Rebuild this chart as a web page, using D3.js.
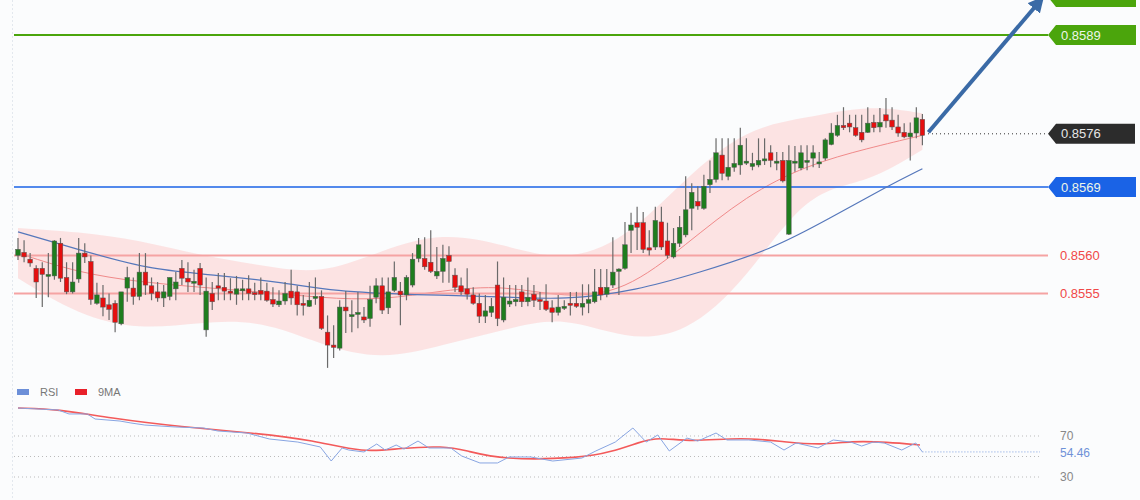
<!DOCTYPE html>
<html lang="en">
<head>
<meta charset="UTF-8">
<title>Candles</title>
<style>
    body { margin: 0; background: #fbfcfd; overflow: hidden; }
    svg { display: block; font-family: "Liberation Sans", Arial, sans-serif; }
</style>
</head>
<body>
<svg id="chart" width="1140" height="500"></svg>
<script src="https://cdn.jsdelivr.net/npm/d3@7/dist/d3.min.js"></script>
<script>
// candles
const open = [0.85600,0.85604,0.85595,0.85583,0.85583,0.85573,0.85573,0.85616,0.85571,0.85552,
0.85569,0.85603,0.85592,0.85537,0.85544,0.85535,0.85537,0.85510,0.85557,0.85557,
0.85546,0.85578,0.85560,0.85552,0.85544,0.85546,0.85556,0.85583,0.85570,0.85564,
0.85583,0.85502,0.85550,0.85560,0.85558,0.85553,0.85549,0.85554,0.85556,0.85551,
0.85554,0.85553,0.85542,0.85535,0.85540,0.85553,0.85552,0.85537,0.85533,0.85544,
0.85546,0.85499,0.85482,0.85478,0.85532,0.85521,0.85523,0.85519,0.85517,0.85545,
0.85560,0.85531,0.85554,0.85553,0.85548,0.85561,0.85596,0.85596,0.85591,0.85573,
0.85579,0.85600,0.85574,0.85560,0.85556,0.85548,0.85537,0.85520,0.85525,0.85561,
0.85515,0.85536,0.85539,0.85552,0.85539,0.85549,0.85542,0.85540,0.85531,0.85525,
0.85531,0.85537,0.85537,0.85532,0.85537,0.85539,0.85558,0.85549,0.85561,0.85579,
0.85583,0.85633,0.85643,0.85643,0.85610,0.85611,0.85644,0.85619,0.85598,0.85616,
0.85627,0.85662,0.85671,0.85662,0.85693,0.85700,0.85732,0.85704,0.85716,0.85719,
0.85722,0.85717,0.85719,0.85726,0.85735,0.85723,0.85725,0.85628,0.85723,0.85715,
0.85724,0.85728,0.85722,0.85728,0.85746,0.85758,0.85771,0.85774,0.85768,0.85762,
0.85762,0.85775,0.85769,0.85785,0.85778,0.85769,0.85762,0.85756,0.85761,0.85779];
const close = [0.85608,0.85598,0.85590,0.85565,0.85575,0.85575,0.85619,0.85570,0.85552,0.85565,
0.85603,0.85598,0.85542,0.85548,0.85532,0.85529,0.85512,0.85552,0.85571,0.85546,
0.85578,0.85561,0.85550,0.85544,0.85552,0.85571,0.85565,0.85570,0.85565,0.85566,
0.85561,0.85553,0.85539,0.85557,0.85553,0.85552,0.85556,0.85556,0.85550,0.85550,
0.85549,0.85541,0.85536,0.85540,0.85550,0.85544,0.85535,0.85535,0.85541,0.85546,
0.85504,0.85482,0.85479,0.85532,0.85527,0.85522,0.85525,0.85515,0.85542,0.85560,
0.85528,0.85552,0.85571,0.85548,0.85571,0.85595,0.85614,0.85585,0.85579,0.85579,
0.85596,0.85592,0.85558,0.85552,0.85549,0.85537,0.85520,0.85527,0.85533,0.85517,
0.85545,0.85540,0.85542,0.85539,0.85545,0.85541,0.85541,0.85529,0.85525,0.85532,
0.85533,0.85535,0.85533,0.85537,0.85542,0.85552,0.85548,0.85558,0.85578,0.85582,
0.85614,0.85640,0.85637,0.85608,0.85607,0.85646,0.85611,0.85600,0.85616,0.85637,
0.85660,0.85683,0.85665,0.85691,0.85700,0.85735,0.85708,0.85716,0.85721,0.85745,
0.85724,0.85721,0.85725,0.85727,0.85725,0.85724,0.85698,0.85725,0.85724,0.85735,
0.85725,0.85735,0.85723,0.85752,0.85761,0.85771,0.85768,0.85769,0.85758,0.85752,
0.85774,0.85768,0.85775,0.85777,0.85769,0.85761,0.85756,0.85761,0.85781,0.85758];
const high = [0.85623,0.85620,0.85603,0.85587,0.85591,0.85603,0.85620,0.85623,0.85591,0.85591,
0.85623,0.85616,0.85600,0.85564,0.85561,0.85550,0.85541,0.85552,0.85585,0.85571,
0.85603,0.85603,0.85571,0.85565,0.85561,0.85571,0.85578,0.85594,0.85591,0.85581,
0.85590,0.85571,0.85565,0.85577,0.85577,0.85570,0.85573,0.85568,0.85574,0.85564,
0.85571,0.85564,0.85558,0.85554,0.85565,0.85581,0.85560,0.85548,0.85565,0.85571,
0.85554,0.85521,0.85508,0.85541,0.85553,0.85541,0.85552,0.85532,0.85560,0.85570,
0.85571,0.85571,0.85592,0.85565,0.85574,0.85603,0.85623,0.85624,0.85633,0.85611,
0.85614,0.85612,0.85583,0.85571,0.85583,0.85558,0.85550,0.85548,0.85544,0.85592,
0.85571,0.85561,0.85561,0.85561,0.85571,0.85561,0.85552,0.85562,0.85541,0.85548,
0.85541,0.85552,0.85552,0.85562,0.85562,0.85582,0.85582,0.85582,0.85624,0.85583,
0.85644,0.85656,0.85664,0.85657,0.85633,0.85664,0.85664,0.85643,0.85636,0.85652,
0.85704,0.85695,0.85691,0.85706,0.85725,0.85754,0.85754,0.85754,0.85754,0.85768,
0.85754,0.85735,0.85754,0.85754,0.85745,0.85736,0.85736,0.85745,0.85744,0.85745,
0.85745,0.85745,0.85736,0.85754,0.85774,0.85785,0.85795,0.85785,0.85785,0.85785,
0.85795,0.85785,0.85794,0.85807,0.85795,0.85785,0.85774,0.85775,0.85795,0.85786];
const low = [0.85594,0.85591,0.85585,0.85544,0.85532,0.85545,0.85568,0.85565,0.85549,0.85550,
0.85564,0.85590,0.85535,0.85535,0.85520,0.85515,0.85499,0.85508,0.85539,0.85535,
0.85541,0.85548,0.85541,0.85539,0.85532,0.85541,0.85541,0.85561,0.85552,0.85552,
0.85548,0.85493,0.85528,0.85541,0.85541,0.85541,0.85535,0.85541,0.85541,0.85541,
0.85541,0.85539,0.85532,0.85532,0.85535,0.85535,0.85521,0.85521,0.85532,0.85535,
0.85502,0.85452,0.85465,0.85475,0.85498,0.85499,0.85504,0.85511,0.85506,0.85537,
0.85523,0.85523,0.85552,0.85508,0.85541,0.85558,0.85591,0.85581,0.85577,0.85569,
0.85564,0.85564,0.85552,0.85548,0.85542,0.85535,0.85511,0.85511,0.85519,0.85507,
0.85512,0.85532,0.85533,0.85532,0.85533,0.85532,0.85528,0.85527,0.85512,0.85521,
0.85528,0.85521,0.85531,0.85521,0.85524,0.85537,0.85541,0.85545,0.85557,0.85548,
0.85581,0.85603,0.85607,0.85603,0.85600,0.85607,0.85607,0.85596,0.85596,0.85611,
0.85624,0.85633,0.85660,0.85660,0.85682,0.85696,0.85699,0.85699,0.85710,0.85706,
0.85719,0.85712,0.85716,0.85719,0.85716,0.85712,0.85696,0.85627,0.85710,0.85712,
0.85712,0.85716,0.85715,0.85725,0.85745,0.85756,0.85765,0.85762,0.85756,0.85749,
0.85761,0.85762,0.85762,0.85768,0.85765,0.85756,0.85754,0.85725,0.85754,0.85745];

// bollinger band (read at candle indices)
const bandIdx = [0,10,20,30,40,50,60,70,80,90,100,110,120,130,140,149];
const bandUp  = [0.85636,0.85631,0.85620,0.85600,0.85587,0.85574,0.85607,0.85631,0.85614,0.85591,0.85620,0.85702,0.85768,0.85781,0.85798,0.85787];
const bandLow = [0.85570,0.85521,0.85502,0.85512,0.85515,0.85482,0.85462,0.85482,0.85502,0.85521,0.85489,0.85495,0.85568,0.85686,0.85695,0.85739];
const bandMid = [0.85603,0.85577,0.85565,0.85558,0.85552,0.85544,0.85541,0.85554,0.85561,0.85544,0.85552,0.85614,0.85679,0.85719,0.85741,0.85758];

// slow moving average
const maIdx = [0,12,22,33,44,52,65,80,90,102,112,124,134,143,149];
const maVal = [0.85631,0.85603,0.85581,0.85574,0.85564,0.85553,0.85548,0.85546,0.85541,0.85554,0.85577,0.85607,0.85650,0.85690,0.85714];

// levels
const levels = [
    { v: 0.8594, color: "#4ba50c", kind: "tag", label: "" },
    { v: 0.8589, color: "#4ba50c", kind: "tag", label: "0.8589" },
    { v: 0.8569, color: "#1a63e6", kind: "tag", label: "0.8569" },
    { v: 0.8560, color: "#f5a3a3", kind: "text", label: "0.8560" },
    { v: 0.8555, color: "#f5a3a3", kind: "text", label: "0.8555" }
];
const lastPrice = 0.8576;

// RSI panel
const rsiIdx = [0,6.6,8.4,11.4,12.7,16.8,18.6,20.9,25.9,30.6,32.9,37.7,41.4,46.1,49.8,51.6,53.4,54.5,57,59.1,60.5,62.3,63.6,65.9,67.7,71.3,73.1,76.1,79,80.9,84.5,88.1,92.9,95.2,98.4,101.3,103.5,105.4,107.3,110.2,112,115,116.8,120.4,124,126.2,128.2,131.8,134.3,137.2,139,140.9,142.7,145.6,147.9,149];
const rsiVal = [97.3,95.4,91.5,91.5,86.6,84.6,82.7,80.7,78.8,77.8,74.9,72.9,67.1,64.1,59.3,45.6,58.3,56.3,54.4,62.2,56.3,61.2,57.3,65.1,58.3,58.3,50.5,43.7,43.7,49.5,49.5,45.6,48.5,55.4,64.1,77.8,64.1,71,55.4,68,65.1,72.9,66.1,66.1,64.1,56.3,63.2,58.3,66.1,64.1,60.2,64.1,63.2,56.3,63.2,54.46];
const ma9Idx = [0,6.6,15,27,39,48.6,57,62.9,70.2,73.6,79.7,92.9,97.7,102.5,105.4,110.9,119.3,126.4,132.5,137.2,143.2,148.6];
const ma9Val = [97.3,96.3,87.6,78.8,72.9,66.1,53.4,58.3,60.2,56.3,46.6,48.5,54.4,64.1,69,64.1,69,64.1,61.2,65.1,64.1,61.2];
const rsiTicks = [70, 30];
const rsiLast = 54.46;

const svg = d3.select('#chart');
const x = d3.scaleLinear().domain([0, 149]).range([18, 922.4]);
const y = d3.scaleLinear().domain([0.8569, 0.8589]).range([187, 35]);
const yr = d3.scaleLinear().domain([30, 70]).range([477, 436]);
const left = 14, right = 1048;

svg.append('line').attr('x1', 12.5).attr('x2', 12.5).attr('y1', 0).attr('y2', 500)
    .attr('stroke', '#e3e8ee').attr('stroke-dasharray', '2,2');

// band
const band = bandIdx.map((d, i) => ({ i: d, u: bandUp[i], l: bandLow[i], m: bandMid[i] }));
svg.append('path').datum(band)
    .attr('d', d3.area().curve(d3.curveBasis).x(d => x(d.i)).y0(d => y(d.l)).y1(d => y(d.u)))
    .attr('fill', '#fcdede').attr('opacity', 0.85);
svg.append('path').datum(band)
    .attr('d', d3.line().curve(d3.curveBasis).x(d => x(d.i)).y(d => y(d.m)))
    .attr('fill', 'none').attr('stroke', '#f08a8a').attr('stroke-width', 1);

// levels
levels.forEach(l => {
    const ly = y(l.v);
    svg.append('line').attr('x1', left).attr('x2', right).attr('y1', ly).attr('y2', ly)
        .attr('stroke', l.color).attr('stroke-width', l.kind === 'text' ? 2 : (l.color === '#1a63e6' ? 1.5 : 2));
    if (l.kind === 'tag') {
        svg.append('path').attr('d', `M${right},${ly} L${right + 8},${ly - 10} H1136 V${ly + 10} H${right + 8} Z`)
            .attr('fill', l.color);
        svg.append('text').attr('x', 1061).attr('y', ly + 4.5).attr('fill', '#eef6e8')
            .attr('font-size', 13).text(l.label);
    } else {
        svg.append('text').attr('x', 1060).attr('y', ly + 4.5).attr('fill', '#f04848')
            .attr('font-size', 13).text(l.label);
    }
});

// slow MA
svg.append('path').datum(maIdx.map((d, i) => [d, maVal[i]]))
    .attr('d', d3.line().curve(d3.curveBasis).x(d => x(d[0])).y(d => y(d[1])))
    .attr('fill', 'none').attr('stroke', '#5577bb').attr('stroke-width', 1.2);

// candles
const idx = d3.range(open.length);
const g = svg.append('g');
g.selectAll('line.wick').data(idx).join('line')
    .attr('x1', i => x(i)).attr('x2', i => x(i))
    .attr('y1', i => y(high[i])).attr('y2', i => y(low[i]))
    .attr('stroke', '#6a6a6a').attr('stroke-width', 1.2);
g.selectAll('rect').data(idx).join('rect')
    .attr('x', i => x(i) - 2.3).attr('width', 4.6)
    .attr('y', i => y(Math.max(open[i], close[i])))
    .attr('height', i => Math.max(2, Math.abs(y(open[i]) - y(close[i]))))
    .attr('fill', i => close[i] >= open[i] ? '#1e7d1e' : '#e60f0f')
    .attr('stroke', '#555').attr('stroke-width', 0.5);

// last price
const ly = y(lastPrice);
svg.append('line').attr('x1', 928).attr('x2', right).attr('y1', ly).attr('y2', ly)
    .attr('stroke', '#333').attr('stroke-dasharray', '1,3');
svg.append('path').attr('d', `M${right},${ly} L${right + 8},${ly - 10} H1135 V${ly + 10} H${right + 8} Z`)
    .attr('fill', '#2c2c2c');
svg.append('text').attr('x', 1061).attr('y', ly + 4.5).attr('fill', '#e6e6e6')
    .attr('font-size', 13).text('0.8576');

// arrow
const ax0 = x(149) + 6, ay0 = y(close[149]) - 3, ax1 = 1040, ay1 = 1;
svg.append('defs').append('marker').attr('id', 'ah').attr('viewBox', '0 0 10 10')
    .attr('refX', 6).attr('refY', 5).attr('markerWidth', 4).attr('markerHeight', 4).attr('orient', 'auto')
    .append('path').attr('d', 'M0,0 L10,5 L0,10 Z').attr('fill', '#3a6aa6');
svg.append('line').attr('x1', ax0).attr('y1', ay0).attr('x2', ax1).attr('y2', ay1)
    .attr('stroke', '#3a6aa6').attr('stroke-width', 4).attr('marker-end', 'url(#ah)');

// RSI panel
const leg = svg.append('g').attr('font-size', 11).attr('fill', '#777');
leg.append('rect').attr('x', 17).attr('y', 389).attr('width', 12).attr('height', 6).attr('fill', '#6c8fd8');
leg.append('text').attr('x', 40).attr('y', 396).text('RSI');
leg.append('rect').attr('x', 75).attr('y', 389).attr('width', 12).attr('height', 6).attr('fill', '#e8202a');
leg.append('text').attr('x', 98).attr('y', 396).text('9MA');

[70, 50, 30].forEach(t => {
    svg.append('line').attr('x1', left).attr('x2', 1040).attr('y1', yr(t)).attr('y2', yr(t))
        .attr('stroke', '#bbb').attr('stroke-dasharray', '1,3');
});
rsiTicks.forEach(t => {
    svg.append('text').attr('x', 1060).attr('y', yr(t) + 4).attr('font-size', 12).attr('fill', '#888').text(t);
});
svg.append('line').attr('x1', x(149)).attr('x2', 1040).attr('y1', yr(rsiLast)).attr('y2', yr(rsiLast))
    .attr('stroke', '#7b9ee0').attr('stroke-dasharray', '1,2');
svg.append('text').attr('x', 1060).attr('y', yr(rsiLast) + 5).attr('font-size', 12).attr('fill', '#6f92d8').text(rsiLast);

svg.append('path').datum(ma9Idx.map((d, i) => [d, ma9Val[i]]))
    .attr('d', d3.line().curve(d3.curveBasis).x(d => x(d[0])).y(d => yr(d[1])))
    .attr('fill', 'none').attr('stroke', '#f35a5a').attr('stroke-width', 1.6);
svg.append('path').datum(rsiIdx.map((d, i) => [d, rsiVal[i]]))
    .attr('d', d3.line().x(d => x(d[0])).y(d => yr(d[1])))
    .attr('fill', 'none').attr('stroke', '#88a5e2').attr('stroke-width', 1);
</script>
</body>
</html>
